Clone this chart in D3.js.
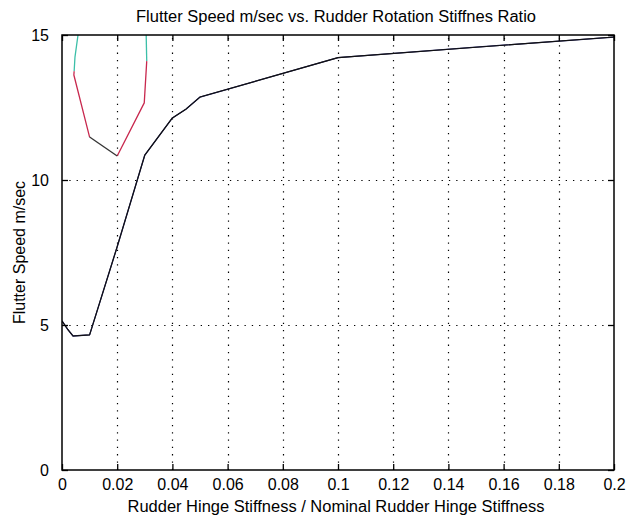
<!DOCTYPE html>
<html>
<head>
<meta charset="utf-8">
<script src="https://cdn.jsdelivr.net/npm/d3@7/dist/d3.min.js"></script>
<style>
  html, body { margin: 0; padding: 0; background: #fff; }
  svg { display: block; }
  text { font-family: "Liberation Sans", Arial, sans-serif; fill: #000; }
</style>
</head>
<body>
<svg id="chart" width="627" height="517"></svg>
<script>
// ---- data ----
const titleText = "Flutter Speed m/sec vs. Rudder Rotation Stiffnes Ratio";
const xLabelText = "Rudder Hinge Stiffness / Nominal Rudder Hinge Stiffness";
const yLabelText = "Flutter Speed m/sec";

const xTicks = [0, 0.02, 0.04, 0.06, 0.08, 0.1, 0.12, 0.14, 0.16, 0.18, 0.2];
const xTickLabels = ["0", "0.02", "0.04", "0.06", "0.08", "0.1", "0.12", "0.14", "0.16", "0.18", "0.2"];
const yTicks = [0, 5, 10, 15];
const yTickLabels = ["0", "5", "10", "15"];

// main flutter curve
const mainX = [0, 0.002, 0.004, 0.01, 0.02, 0.03, 0.04, 0.045, 0.05, 0.1, 0.15, 0.2];
const mainY = [5.14, 4.86, 4.62, 4.66, 7.7, 10.86, 12.14, 12.45, 12.86, 14.22, 14.58, 14.93];

// second mode (closed-top loop), upper parts
const cyanLeftX = [0.0058, 0.0047, 0.0044];
const cyanLeftY = [15.0, 14.24, 13.75];
const cyanRightX = [0.0307, 0.0305];
const cyanRightY = [14.1, 15.0];
// red parts
const redLeftX = [0.0044, 0.0043, 0.01];
const redLeftY = [13.75, 13.62, 11.48];
const redRightX = [0.02, 0.0298, 0.0307];
const redRightY = [10.83, 12.66, 14.1];
// dark bottom part
const darkLoopX = [0.01, 0.02];
const darkLoopY = [11.48, 10.83];

// ---- layout ----
const svg = d3.select("#chart");
const L = 62, R = 614, T = 35, B = 470;
const x = d3.scaleLinear().domain([0, 0.2]).range([L, R]);
const y = d3.scaleLinear().domain([0, 15]).range([B, T]);

svg.append("rect").attr("x", 0).attr("y", 0).attr("width", 627).attr("height", 517).attr("fill", "#fff");

// grid
const grid = svg.append("g").attr("stroke", "#000").attr("stroke-width", 1.2)
  .attr("stroke-dasharray", "1.3,6");
xTicks.slice(1, -1).forEach(v => {
  grid.append("line").attr("x1", Math.round(x(v)) + 0.5).attr("x2", Math.round(x(v)) + 0.5)
    .attr("y1", B).attr("y2", T);
});
yTicks.slice(1, -1).forEach(v => {
  grid.append("line").attr("y1", Math.round(y(v)) + 0.5).attr("y2", Math.round(y(v)) + 0.5)
    .attr("x1", L).attr("x2", R);
});

// lines
const pts = (xs, ys) => xs.map((d, i) => [d, ys[i]]);
const line = d3.line().x(d => x(d[0])).y(d => y(d[1]));
const clip = svg.append("clipPath").attr("id", "clip").append("rect")
  .attr("x", L).attr("y", T).attr("width", R - L).attr("height", B - T);
const plot = svg.append("g").attr("clip-path", "url(#clip)").attr("fill", "none")
  .attr("stroke-width", 1.3).attr("stroke-linejoin", "round");

plot.append("path").attr("d", line(pts(mainX, mainY))).attr("stroke", "#1a1a5a");
plot.append("path").attr("d", line(pts(mainX, mainY))).attr("stroke", "#111").attr("stroke-width", 1.1);
plot.append("path").attr("d", line(pts(cyanLeftX, cyanLeftY))).attr("stroke", "#3cbfa8");
plot.append("path").attr("d", line(pts(cyanRightX, cyanRightY))).attr("stroke", "#3cbfa8");
plot.append("path").attr("d", line(pts(redLeftX, redLeftY))).attr("stroke", "#c8284e");
plot.append("path").attr("d", line(pts(redRightX, redRightY))).attr("stroke", "#c8284e");
plot.append("path").attr("d", line(pts(darkLoopX, darkLoopY))).attr("stroke", "#333");

// axes (MATLAB style inward ticks on all sides)
const tickLen = 6;
const axB = svg.append("g").attr("transform", `translate(0,${B})`)
  .call(d3.axisBottom(x).tickValues(xTicks).tickFormat((d, i) => xTickLabels[i])
    .tickSizeInner(-tickLen).tickSizeOuter(0).tickPadding(12));
const axT = svg.append("g").attr("transform", `translate(0,${T})`)
  .call(d3.axisTop(x).tickValues(xTicks).tickFormat("").tickSizeInner(-tickLen).tickSizeOuter(0));
const axL = svg.append("g").attr("transform", `translate(${L},0)`)
  .call(d3.axisLeft(y).tickValues(yTicks).tickFormat((d, i) => yTickLabels[i])
    .tickSizeInner(-tickLen).tickSizeOuter(0).tickPadding(13));
const axR = svg.append("g").attr("transform", `translate(${R},0)`)
  .call(d3.axisRight(y).tickValues(yTicks).tickFormat("").tickSizeInner(-tickLen).tickSizeOuter(0));
[axB, axT, axL, axR].forEach(a => {
  a.select(".domain").remove();
  a.selectAll("line").attr("stroke", "#000").attr("stroke-width", 1.3);
  a.selectAll("text").style("font-family", "'Liberation Sans', Arial, sans-serif")
    .style("font-size", "16px").attr("fill", "#000");
});
axB.selectAll("text").attr("dy", "0.71em").attr("y", 9);

// frame
svg.append("rect").attr("x", L).attr("y", T).attr("width", R - L).attr("height", B - T)
  .attr("fill", "none").attr("stroke", "#000").attr("stroke-width", 1.5);

// title and labels
svg.append("text").attr("x", 336).attr("y", 22).attr("text-anchor", "middle")
  .style("font-size", "16px").attr("textLength", 400).attr("lengthAdjust", "spacingAndGlyphs")
  .text(titleText);
svg.append("text").attr("x", 336).attr("y", 512).attr("text-anchor", "middle")
  .style("font-size", "16px").attr("textLength", 417).attr("lengthAdjust", "spacingAndGlyphs")
  .text(xLabelText);
svg.append("text").attr("transform", `translate(25,${(T + B) / 2}) rotate(-90)`)
  .attr("text-anchor", "middle").style("font-size", "16px").text(yLabelText);
</script>
</body>
</html>
